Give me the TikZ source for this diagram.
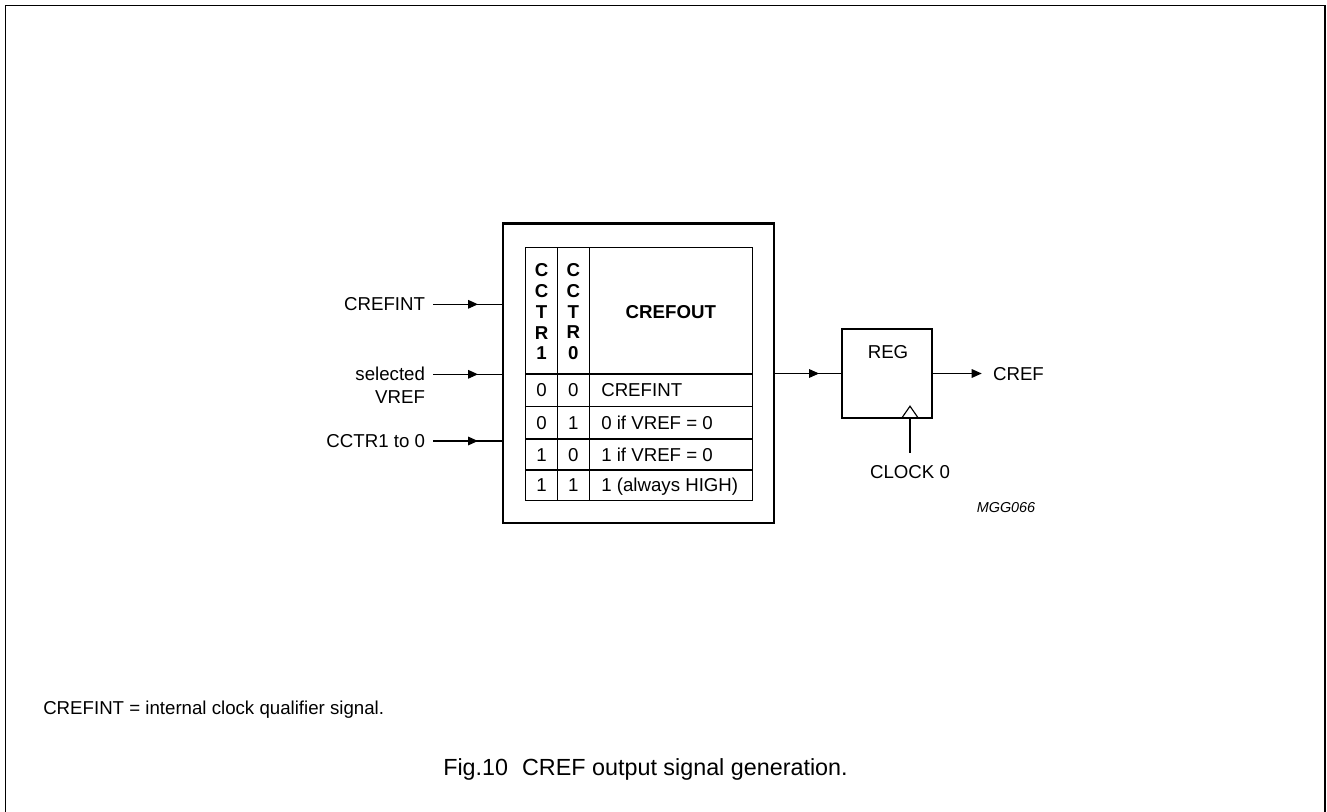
\documentclass[tikz,border=0pt]{standalone}
\usepackage{fontspec}
\setmainfont{Liberation Sans}
\usetikzlibrary{arrows.meta,decorations.markings}
\tikzset{sigtip/.tip={Triangle[length=7.5pt,width=6.5pt]}}
\begin{document}
\begin{tikzpicture}[x=0.75pt,y=-0.75pt,
  lbl/.style={inner sep=0pt, font=\fontsize{14}{16.8}\selectfont, text height=10pt, text depth=0pt},
  inlbl/.style={lbl, anchor=east, outer xsep=6pt},
  conn/.style={line width=0.85pt},
  midarr/.style={conn, postaction={decorate}, decoration={markings, mark=at position #1 with {\arrow{sigtip}}}},
  thickbox/.style={draw, line width=1.6pt, inner sep=0pt},
  tbl/.style={line width=0.8pt},
  hdr/.style={inner sep=0pt, align=center, font=\fontsize{14}{15.6}\selectfont\bfseries}
]
\useasboundingbox (0,0) rectangle (1327,812);
% frame
\draw[line width=1.1pt] (5.5,812) -- (5.5,5.7) -- (1325,5.7) -- (1325,812);

% main block
\node[thickbox, minimum width=203.25pt, minimum height=224.6pt] (main) at (638.5,373.25) {};
% table
\draw[tbl] (525.7,247.3) rectangle (752.3,500.7);
\draw[tbl] (557.5,247.3) -- (557.5,500.7);
\draw[tbl] (589.3,247.3) -- (589.3,500.7);
\foreach \yy in {374,406.7,439,470} \draw[tbl] (525.7,\yy) -- (752.3,\yy);
\node[hdr] (h1) at (541.6,311.7) {C\\C\\T\\R\\1};
\node[hdr] (h0) at (573.4,311.7) {C\\C\\T\\R\\0};
\node[lbl, font=\fontsize{14}{16.8}\selectfont\bfseries] (hout) at (670.8,311.7) {CREFOUT};
\node[lbl] (a1) at (541.6,390.3) {0};
\node[lbl] (a0) at (573.4,390.3) {0};
\node[lbl, anchor=west] (ao) at (601,390.3) {CREFINT};
\node[lbl] (b1) at (541.6,422.8) {0};
\node[lbl] (b0) at (573.4,422.8) {1};
\node[lbl, anchor=west] (bo) at (601,422.8) {0 if VREF = 0};
\node[lbl] (c1) at (541.6,454.5) {1};
\node[lbl] (c0) at (573.4,454.5) {0};
\node[lbl, anchor=west] (co) at (601,454.5) {1 if VREF = 0};
\node[lbl] (d1) at (541.6,485.3) {1};
\node[lbl] (d0) at (573.4,485.3) {1};
\node[lbl, anchor=west] (do) at (601,485.3) {1 (always HIGH)};

% inputs
\node[inlbl] (in1) at (433,304.3) {CREFINT};
\node[inlbl] (in2) at (433,374.3) {selected};
\node[inlbl] (in2b) at (433,396.7) {VREF};
\node[inlbl] (in3) at (433,441) {CCTR1 to 0};
\draw[midarr=33.75pt] (in1.east) -- (in1.east -| main.west);
\draw[midarr=33.75pt] (in2.east) -- (in2.east -| main.west);
\draw[midarr=33.75pt] (in3.east) -- (in3.east -| main.west);

% register
\node[thickbox, minimum width=67.5pt, minimum height=66.3pt] (reg) at (887.3,373.5) {};
\node[lbl] (regt) at (888,351.7) {REG};
\draw[conn] (902,417.7) -- (910,406.2) -- (918,417.7);
\draw[midarr=33pt] (main.east |- reg.west) -- (reg.west);
\node[lbl, anchor=west, outer xsep=8.5pt] (cref) at (981.7,373.5) {CREF};
\draw[conn, -{sigtip}] (reg.east) -- (cref.west);
\node[lbl, outer ysep=9pt] (clk) at (910,471.7) {CLOCK 0};
\draw[conn] (clk.north |- reg.south) -- (clk.north);
\node[inner sep=0pt, font=\fontsize{10.8}{13}\selectfont\itshape] (mgg) at (1006,508) {MGG066};

% notes
\node[lbl, anchor=west] (note) at (43,708) {CREFINT = internal clock qualifier signal.};
\node[inner sep=0pt, font=\fontsize{17.5}{21}\selectfont] (cap) at (645.5,769) {Fig.10\hspace{0.6em}CREF output signal generation.};
\end{tikzpicture}
\end{document}
